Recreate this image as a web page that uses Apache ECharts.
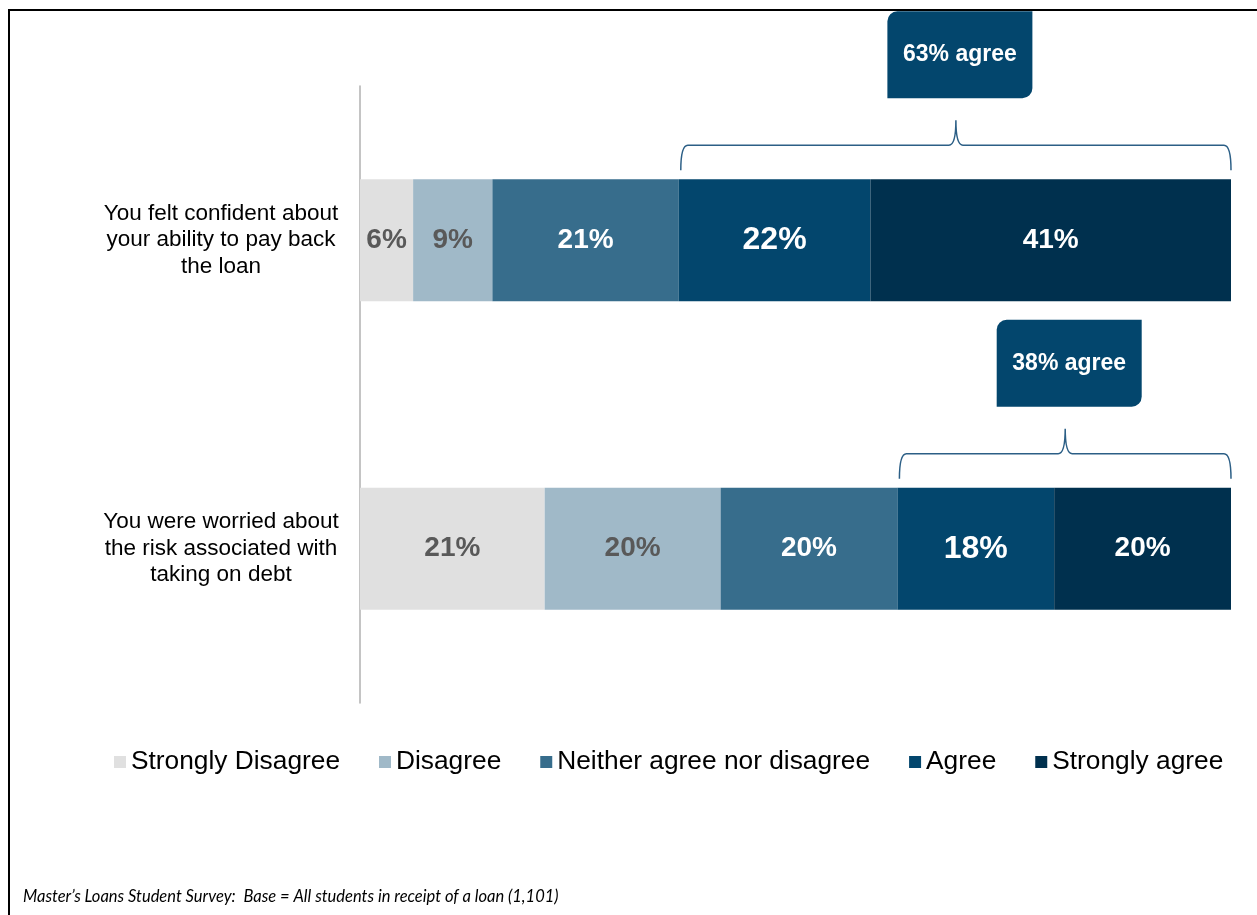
<!DOCTYPE html>
<html>
<head>
<meta charset="utf-8">
<script src="https://cdn.jsdelivr.net/npm/echarts@6/dist/echarts.min.js"></script>
<style>
  html, body { margin: 0; padding: 0; background: #fff; }
  #main { width: 1257px; height: 915px; }
</style>
</head>
<body>
<div id="main"></div>
<script>
var chartDom = document.getElementById('main');
var myChart = echarts.init(chartDom);
var option;

// statements, top to bottom
let statements = [
  'You felt confident about\nyour ability to pay back\nthe loan',
  'You were worried about\nthe risk associated with\ntaking on debt'
];
let levels = ['Strongly Disagree', 'Disagree', 'Neither agree nor disagree', 'Agree', 'Strongly agree'];
let colors = ['#e0e0e0', '#a0b9c8', '#376d8c', '#03466d', '#00304e'];
let labelColors = ['#595959', '#595959', '#ffffff', '#ffffff', '#ffffff'];
let labelSizes = [28, 28, 28, 32, 28];

// shares per level, one value per statement
let stronglyDisagree = [6.1, 21.2];
let disagree = [9.1, 20.2];
let neither = [21.4, 20.3];
let agree = [22.0, 18.0];
let stronglyAgree = [41.4, 20.3];
let agreeLabels = ['63% agree', '38% agree'];

let values = [stronglyDisagree, disagree, neither, agree, stronglyAgree];

let barSeries = levels.map(function (name, i) {
  return {
    name: name,
    type: 'bar',
    stack: 'total',
    data: values[i],
    barWidth: 122,
    itemStyle: { color: colors[i] },
    label: {
      show: true,
      position: 'inside',
      formatter: function (p) { return Math.round(p.value) + '%'; },
      color: labelColors[i],
      fontFamily: 'Liberation Sans',
      fontWeight: 'bold',
      fontSize: labelSizes[i]
    }
  };
});

// brace + callout over the agree part of each bar
let braceData = statements.map(function (s, i) {
  return [stronglyDisagree[i] + disagree[i] + neither[i], 100, i];
});

function renderBrace(params, api) {
  let start = api.coord([api.value(0), api.value(2)]);
  let end = api.coord([api.value(1), api.value(2)]);
  let x0 = start[0] + 2, x1 = end[0];
  let barTop = start[1] - 61;
  let yB = barTop - 9, yM = barTop - 34, yT = barTop - 59;
  let xc = (x0 + x1) / 2;
  let r = 7;
  let path = 'M' + x0 + ',' + yB +
    ' Q' + x0 + ',' + yM + ' ' + (x0 + r) + ',' + yM +
    ' L' + (xc - r) + ',' + yM +
    ' Q' + xc + ',' + yM + ' ' + xc + ',' + yT +
    ' Q' + xc + ',' + yM + ' ' + (xc + r) + ',' + yM +
    ' L' + (x1 - r) + ',' + yM +
    ' Q' + x1 + ',' + yM + ' ' + x1 + ',' + yB;
  let boxW = 145, boxH = 87;
  let boxBottom = barTop - 81;
  return {
    type: 'group',
    children: [
      {
        type: 'path',
        shape: { pathData: path },
        style: { fill: null, stroke: '#2c5f86', lineWidth: 1.5 }
      },
      {
        type: 'rect',
        shape: { x: xc + 4 - boxW / 2, y: boxBottom - boxH, width: boxW, height: boxH, r: [10, 0, 10, 0] },
        style: { fill: '#03466d' }
      },
      {
        type: 'text',
        style: {
          text: agreeLabels[params.dataIndex],
          x: xc + 4,
          y: boxBottom - boxH / 2,
          fill: '#ffffff',
          font: 'bold 23px "Liberation Sans"',
          align: 'center',
          verticalAlign: 'middle'
        }
      }
    ]
  };
}

option = {
  animation: false,
  graphic: [
    {
      type: 'polyline',
      shape: { points: [[9, 915], [9, 10], [1257, 10]] },
      style: { stroke: '#000', lineWidth: 2, fill: null }
    },
    {
      type: 'text',
      left: 23,
      top: 888,
      style: {
        text: 'Master\u2019s Loans Student Survey:  Base = All students in receipt of a loan (1,101)',
        font: 'italic 16.5px Lato',
        fill: '#000'
      }
    }
  ],
  legend: {
    data: levels,
    top: 744,
    left: 109,
    itemGap: 39,
    itemWidth: 12,
    itemHeight: 12,
    icon: 'rect',
    textStyle: { fontFamily: 'Liberation Sans', fontSize: 26.3, color: '#000' }
  },
  grid: { left: 360, right: 26, top: 86, bottom: 212 },
  xAxis: {
    type: 'value',
    min: 0,
    max: 100,
    show: false
  },
  yAxis: {
    type: 'category',
    inverse: true,
    data: statements,
    axisLine: { lineStyle: { color: '#b0b0b0', width: 1.5 } },
    axisTick: { show: false },
    axisLabel: {
      margin: 139,
      align: 'center',
      color: '#000',
      fontFamily: 'Liberation Sans',
      fontSize: 22.5,
      lineHeight: 26.5
    }
  },
  series: barSeries.concat([
    {
      type: 'custom',
      name: 'agree',
      clip: false,
      silent: true,
      renderItem: renderBrace,
      data: braceData,
      z: 5
    }
  ])
};

option && myChart.setOption(option);
</script>
</body>
</html>
